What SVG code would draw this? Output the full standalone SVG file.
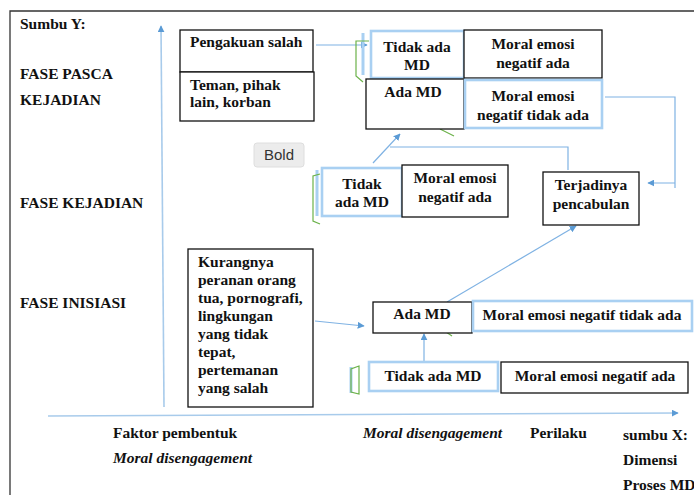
<svg xmlns="http://www.w3.org/2000/svg" width="694" height="495" viewBox="0 0 694 495">
<style>
text{font-family:"Liberation Serif","Times New Roman",serif;font-weight:bold;font-size:15.5px;fill:#111}
.c{text-anchor:middle}
.it{font-style:italic}
.bk{fill:#fff;stroke:#111;stroke-width:1.3}
.bl{fill:#fff;stroke:#a9d0f2;stroke-width:2.6}
.ln{fill:none;stroke:#7fb2e3;stroke-width:1.2}
.ax{fill:none;stroke:#a8cbeb;stroke-width:1.6}
.gr{fill:none;stroke:#6cb24a;stroke-width:1.2}
.sh{fill:none;stroke:#a9d0f2;stroke-width:3}
</style>
<defs>
<marker id="ah" viewBox="0 0 10 10" refX="9" refY="5" markerWidth="7" markerHeight="7" orient="auto" markerUnits="userSpaceOnUse">
<path d="M0,0 L10,5 L0,10 z" fill="#5b9bd5"/>
</marker>
</defs>
<rect width="694" height="495" fill="#fff"/>
<g id="frame">
<path d="M10,495 V11 H694" fill="none" stroke="#333" stroke-width="1.3"/>
</g>
<g id="axes">
<path class="ax" d="M164,407 L161,26" marker-end="url(#ah)"/>
<path class="ax" d="M48,416 L678,413" marker-end="url(#ah)"/>
</g>
<g id="labels">
<text x="20" y="29">Sumbu Y:</text>
<text x="20" y="79">FASE PASCA</text>
<text x="20" y="105">KEJADIAN</text>
<text x="20" y="208">FASE KEJADIAN</text>
<text x="20" y="308">FASE INISIASI</text>
<text x="113" y="438">Faktor pembentuk</text>
<text x="113" y="463" class="it">Moral disengagement</text>
<text x="363" y="438" class="it">Moral disengagement</text>
<text x="530" y="438">Perilaku</text>
<text x="623" y="440">sumbu X:</text>
<text x="623" y="465">Dimensi</text>
<text x="623" y="490">Proses MD</text>
</g>
<g id="connectors">
<path class="ln" d="M316,45 L367,45" marker-end="url(#ah)"/>
<path class="ln" d="M605,97 H675 V188 M675,183 H648" marker-end="url(#ah)"/>
<path class="ln" d="M568,170 V147 H390"/>
<path class="ln" d="M373,163 L400,134" marker-end="url(#ah)"/>
<path class="ln" d="M447,302 L576,226" marker-end="url(#ah)"/>
<path class="ln" d="M315,321 L364,326" marker-end="url(#ah)"/>
<path class="ln" d="M424,361 L424,334" marker-end="url(#ah)"/>
</g>
<g id="n-pengakuan">
<rect class="bk" x="180" y="30" width="133" height="42"/>
<text x="190" y="47">Pengakuan salah</text>
</g>
<g id="n-teman">
<rect class="bk" x="180" y="72" width="134" height="49"/>
<text x="190" y="90">Teman, pihak</text>
<text x="190" y="107">lain, korban</text>
</g>
<g id="tooltip">
<rect x="254" y="143" width="50" height="24" rx="3" fill="#ececec" stroke="#dedede"/>
<text x="279" y="160" class="c" style="font-family:'Liberation Sans',Arial,sans-serif;font-weight:normal;font-size:15px;fill:#333">Bold</text>
</g>
<g id="n-top-tidak">
<path class="sh" d="M363,33 V75"/>
<path class="gr" d="M369,41 H356 V76 L363,82"/>
<rect class="bl" x="371" y="31" width="93" height="47"/>
<text x="417" y="52" class="c">Tidak ada</text>
<text x="417" y="70" class="c">MD</text>
</g>
<g id="n-top-moral-ada">
<rect class="bk" x="464" y="30" width="138" height="48"/>
<text x="533" y="49" class="c">Moral emosi</text>
<text x="533" y="68" class="c">negatif ada</text>
</g>
<g id="n-top-ada">
<path class="gr" d="M440,129 L454,136"/>
<rect class="bk" x="366" y="79" width="98" height="50"/>
<text x="413" y="97" class="c">Ada MD</text>
</g>
<g id="n-top-moral-tidak">
<rect class="bl" x="465" y="80" width="137" height="48"/>
<text x="533" y="101" class="c">Moral emosi</text>
<text x="533" y="120" class="c">negatif tidak ada</text>
</g>
<g id="n-mid-tidak">
<path class="sh" d="M317,170 V216"/>
<path class="gr" d="M320,174 L313,176 V221 L320,224"/>
<rect class="bl" x="322" y="168" width="80" height="48"/>
<text x="362" y="189" class="c">Tidak</text>
<text x="362" y="207" class="c">ada MD</text>
</g>
<g id="n-mid-moral">
<rect class="bk" x="402" y="165" width="106" height="52"/>
<text x="455" y="183" class="c">Moral emosi</text>
<text x="455" y="202" class="c">negatif ada</text>
</g>
<g id="n-terjadinya">
<rect class="bk" x="543" y="172" width="96" height="53"/>
<text x="591" y="190" class="c">Terjadinya</text>
<text x="591" y="209" class="c">pencabulan</text>
</g>
<g id="n-kurangnya">
<rect class="bk" x="188" y="249" width="125" height="158"/>
<text x="198" y="267">Kurangnya</text>
<text x="198" y="285">peranan orang</text>
<text x="198" y="303">tua, pornografi,</text>
<text x="198" y="321">lingkungan</text>
<text x="198" y="339">yang tidak</text>
<text x="198" y="357">tepat,</text>
<text x="198" y="375">pertemanan</text>
<text x="198" y="393">yang salah</text>
</g>
<g id="n-bot-ada">
<path class="gr" d="M446,332 L452,336"/>
<rect class="bk" x="373" y="302" width="99" height="31"/>
<text x="422" y="319" class="c">Ada MD</text>
</g>
<g id="n-bot-moral-tidak">
<rect class="bl" x="473" y="301" width="219" height="30"/>
<text x="582" y="320" class="c">Moral emosi negatif tidak ada</text>
</g>
<g id="n-bot-tidak">
<path class="sh" d="M351,367 V393"/>
<path class="gr" d="M359,366 L351,369 V392 L359,394 Z"/>
<rect class="bl" x="369" y="362" width="129" height="29"/>
<text x="433" y="381" class="c">Tidak ada MD</text>
</g>
<g id="n-bot-moral-ada">
<rect class="bk" x="501" y="362" width="187" height="31"/>
<text x="595" y="381" class="c">Moral emosi negatif ada</text>
</g>
</svg>
